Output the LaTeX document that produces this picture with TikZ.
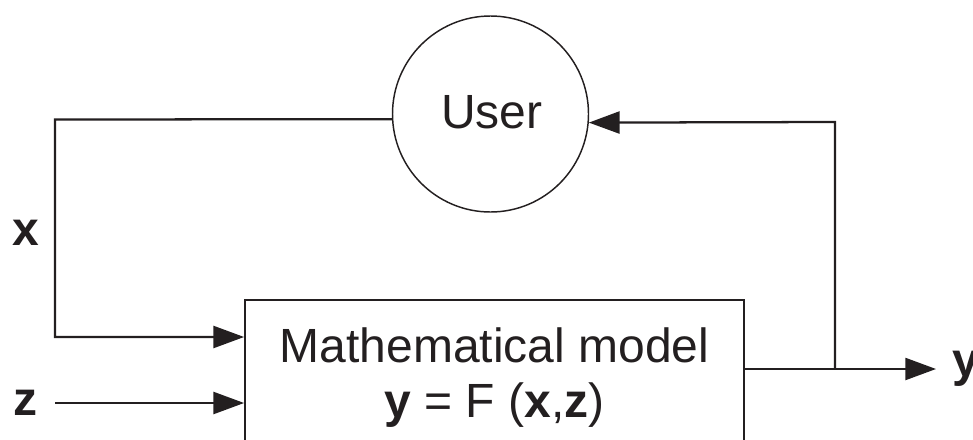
\documentclass[tikz,border=0pt]{standalone}
\usepackage{fontspec}
\setmainfont{Liberation Sans}
\usetikzlibrary{arrows.meta}
\definecolor{ink}{HTML}{231F20}
\begin{document}
\begin{tikzpicture}[x=0.75pt,y=-0.75pt,
  every node/.style={text=ink},
  lbl/.style={font=\fontsize{36pt}{40pt}\selectfont, inner sep=0pt},
  conn/.style={draw=ink, line width=1.7pt},
  arr/.style={conn, -{Triangle[length=23pt,width=16.5pt]}},
  usercircle/.style={circle, draw=ink, line width=1.1pt, minimum size=147pt, inner sep=0pt},
  modelbox/.style={rectangle, draw=ink, line width=1.6pt, minimum width=374pt, minimum height=150pt, inner sep=0pt, anchor=north}
]
\useasboundingbox (0,0) rectangle (973,439);
\clip (0,0) rectangle (973,439);

% shapes
\node[usercircle] (user) at (490.5,114) {};
\node[lbl, anchor=base] (usert) at (492,128) {User};
\node[modelbox] (box) at (494.5,299) {};
\node[lbl, anchor=base] (m1) at (494.5,362) {Mathematical model};
\node[lbl, anchor=base] (m2) at (494.5,417) {\textbf{y} = F (\textbf{x},\textbf{z})};

% labels
\node[lbl, anchor=base] (xl) at (25.5,245) {\textbf{x}};
\node[lbl, anchor=base] (zl) at (25,415) {\textbf{z}};
\node[lbl, anchor=west] (yl) at (952,369) {\textbf{y}};

% coordinates
\coordinate (lc) at (55,119.5);
\coordinate (lb) at (55,337);
\coordinate (zs) at (55,403);
\coordinate (yo) at (936,369);
\coordinate (br) at (835,369);
\coordinate (bt) at (835,122);

% connectors
\draw[arr] (user.183) -- (lc) -- (lb) -- (box.west |- lb);
\draw[arr] (zs) -- (box.west |- zs);
\draw[arr] (box.east |- yo) -- (yo);
\draw[arr] (br) -- (bt) -- (user.355);
\end{tikzpicture}
\end{document}
